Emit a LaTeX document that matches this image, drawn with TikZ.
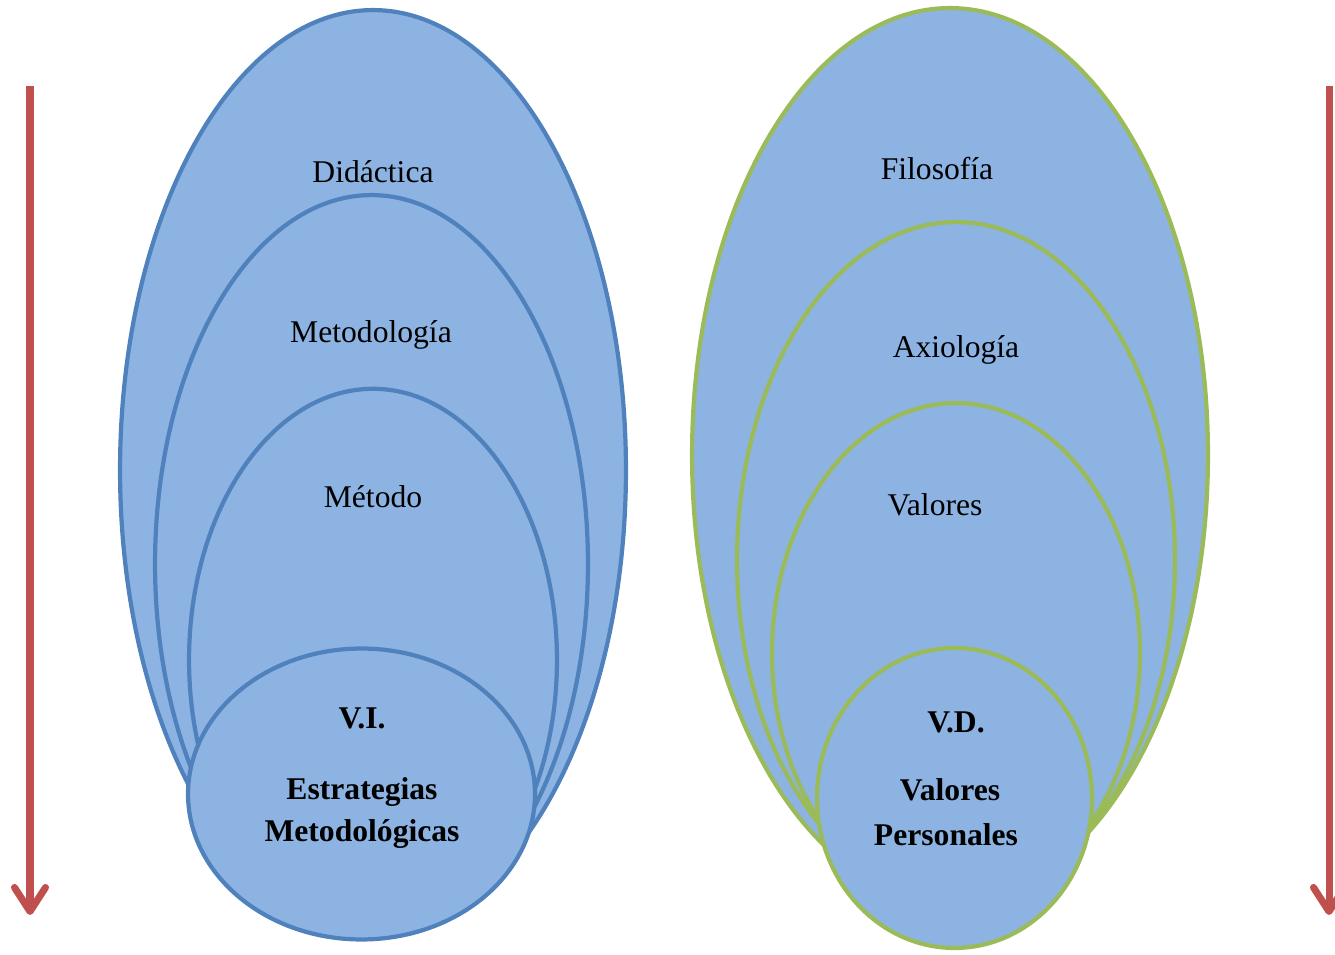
\documentclass[tikz,border=0pt]{standalone}
\usepackage{fontspec}
\setmainfont{Liberation Serif}
\usepackage{xcolor}
\usepackage{tikz}
\usetikzlibrary{shapes,arrows,arrows.meta}
\definecolor{fillblue}{HTML}{8DB3E2}
\definecolor{lineblue}{HTML}{4F81BD}
\definecolor{linegreen}{HTML}{9BBB59}
\definecolor{arrowred}{HTML}{C0504D}
\tikzstyle{ring} = [ellipse, fill=fillblue, line width=2.4pt, inner sep=0pt]
\tikzstyle{vi ring} = [ring, draw=lineblue]
\tikzstyle{vd ring} = [ring, draw=linegreen]
\tikzstyle{word} = [font=\fontsize{18}{21}\selectfont, anchor=base, inner sep=0pt]
\tikzstyle{bword} = [word, font=\fontsize{18}{21}\selectfont\bfseries]
\tikzstyle{down} = [draw=arrowred, line width=4pt,
    -{Straight Barb[length=0.48cm, width=0.62cm, round]}]

\begin{document}
\begin{tikzpicture}[x=0.02cm, y=-0.02cm]
  \useasboundingbox (0,0) rectangle (1335,955);

  % Place nodes: independent variable
  \node [vi ring, minimum width=10.12cm, minimum height=18.4cm] (didactica) at (373,470) {};
  \node [vi ring, minimum width=8.66cm, minimum height=14.76cm] (metodologia) at (371.5,564) {};
  \node [vi ring, minimum width=7.36cm, minimum height=10.85cm] (metodo) at (373,660) {};
  \node [vi ring, minimum width=6.94cm, minimum height=5.82cm] (vi) at (361.5,794) {};

  % Place nodes: dependent variable
  \node [vd ring, minimum width=10.32cm, minimum height=17.88cm] (filosofia) at (950,455) {};
  \node [vd ring, minimum width=8.76cm, minimum height=13.52cm] (axiologia) at (956,560) {};
  \node [vd ring, minimum width=7.36cm, minimum height=10cm] (valores) at (956,653) {};
  \node [vd ring, minimum width=5.5cm, minimum height=6cm] (vd) at (954.5,798) {};

  % Labels
  \node [word] (t-didactica) at (373,183) {Didáctica};
  \node [word] (t-metodologia) at (371,343) {Metodología};
  \node [word] (t-metodo) at (373,508) {Método};
  \node [bword] (t-vi) at (362,728) {V.I.};
  \node [bword] (t-estrategias) at (362,799) {Estrategias};
  \node [bword] (t-metodologicas) at (362,841) {Metodológicas};

  \node [word] (t-filosofia) at (937,180) {Filosofía};
  \node [word] (t-axiologia) at (956,358) {Axiología};
  \node [word] (t-valores) at (935,516) {Valores};
  \node [bword] (t-vd) at (956,732) {V.D.};
  \node [bword] (t-valores2) at (950,800) {Valores};
  \node [bword] (t-personales) at (946,845) {Personales};

  % Side arrows
  \coordinate (ltop) at (30,86);
  \coordinate (lend) at (30,915);
  \coordinate (rtop) at (1329,86);
  \coordinate (rend) at (1329,915);
  \path [down] (ltop) -- (lend);
  \path [down] (rtop) -- (rend);
\end{tikzpicture}
\end{document}
